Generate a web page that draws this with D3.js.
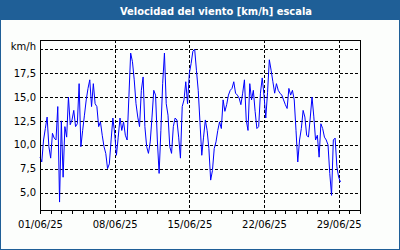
<!DOCTYPE html>
<html>
<head>
<meta charset="utf-8">
<script src="https://cdn.jsdelivr.net/npm/d3@7"></script>
<style>
  body { margin: 0; background: #fff; }
  svg { display: block; }
</style>
</head>
<body>
<svg id="chart" width="400" height="250"></svg>
<script>
// wind speed, one reading every 4 hours starting 01/06/25 00:00
const startDate = new Date(Date.UTC(2025, 5, 1))
const stepHours = 4
const speeds = [
  8.7, 8.2, 10.5, 11.7, 12.9, 9.8, 8.6, 11.2, 10.7, 10.5,
  14.0, 4.0, 12.5, 6.6, 11.9, 10.8, 15.0, 12.1, 12.6, 13.6,
  11.9, 12.2, 16.4, 9.8, 11.5, 13.1, 14.7, 15.9, 16.8, 14.0,
  16.4, 14.3, 14.0, 11.9, 12.4, 11.0, 9.8, 9.1, 7.5, 8.0,
  10.5, 12.8, 11.2, 8.9, 10.8, 12.8, 11.5, 12.4, 11.0, 10.5,
  15.0, 19.6, 18.7, 16.8, 14.3, 12.9, 11.9, 15.7, 17.1, 11.9,
  9.8, 9.1, 10.3, 12.9, 15.7, 15.2, 10.5, 7.0, 11.5, 16.4,
  19.6, 14.3, 13.1, 9.8, 9.1, 11.9, 12.8, 12.6, 10.8, 8.6,
  14.0, 14.7, 16.6, 14.3, 17.5, 18.5, 19.8, 20.0, 17.8, 15.7,
  12.3, 8.9, 10.8, 12.6, 11.5, 9.6, 6.3, 7.3, 9.6, 10.3,
  11.5, 12.4, 11.7, 14.7, 13.5, 14.2, 15.2, 15.7, 15.9, 16.6,
  15.4, 15.2, 14.9, 14.2, 15.4, 16.8, 12.6, 11.5, 16.4, 14.7,
  15.7, 13.5, 11.7, 11.9, 15.4, 17.0, 15.2, 12.8, 15.5, 18.9,
  17.8, 16.6, 15.4, 16.4, 15.7, 15.4, 15.2, 14.7, 14.2, 13.8,
  15.9, 15.2, 15.7, 14.7, 11.5, 8.2, 10.5, 11.7, 13.6, 12.9,
  11.0, 10.8, 12.8, 15.0, 13.0, 10.5, 11.0, 8.7, 12.2, 11.7,
  10.8, 10.5, 10.0, 7.0, 4.7, 10.5, 10.7, 7.7, 6.6, 6.1
]
const yTicks = [5, 7.5, 10, 12.5, 15, 17.5, 20]
const labelDates = ["2025-06-01", "2025-06-08", "2025-06-15", "2025-06-22", "2025-06-29"]
const titleText = "Velocidad del viento [km/h] escala"
const unitText = "km/h"

let width = 400, height = 250
let margin = { top: 40, right: 40, bottom: 40, left: 40 }

let data = speeds.map((v, i) => ({ t: d3.utcHour.offset(startDate, i * stepHours), v: v }))

let x = d3.scaleUtc()
  .domain([startDate, new Date(Date.UTC(2025, 6, 1))])
  .range([margin.left, width - margin.right])

let y = d3.scaleLinear()
  .domain([3.17, 20.97])
  .range([height - margin.bottom, margin.top])

let svg = d3.select("#chart")
  .style("font-family", "'DejaVu Sans', Verdana, sans-serif")

// background + outer border
svg.append("rect")
  .attr("x", 0.5).attr("y", 0.5)
  .attr("width", width - 1).attr("height", height - 1)
  .attr("fill", "#fcfefc")
  .attr("stroke", "#1f5f97")

// title bar
svg.append("rect")
  .attr("x", 0).attr("y", 0)
  .attr("width", width).attr("height", 20)
  .attr("fill", "#1f5f97")

svg.append("text")
  .attr("x", 216).attr("y", 14.5)
  .attr("text-anchor", "middle")
  .attr("fill", "#fff")
  .attr("font-weight", "bold")
  .attr("font-size", 11)
  .attr("font-family", "'DejaVu Sans Condensed', 'DejaVu Sans', sans-serif")
  .attr("font-stretch", "condensed")
  .text(titleText)

// horizontal grid + y labels
let fmt = d => d === 20 ? unitText : d3.format(".1f")(d).replace(".", ",")

let yAxis = svg.append("g")
  .attr("transform", `translate(${margin.left},0)`)
  .call(d3.axisLeft(y)
    .tickValues(yTicks)
    .tickSize(-(width - margin.left - margin.right))
    .tickPadding(4)
    .tickFormat(fmt))
yAxis.select(".domain").remove()
yAxis.selectAll("line")
  .attr("stroke", "#000")
  .attr("stroke-dasharray", "3,2")
  .attr("shape-rendering", "crispEdges")
yAxis.selectAll("text")
  .attr("fill", "#000")
  .attr("font-size", 10)
  .attr("font-family", "'DejaVu Sans', Verdana, sans-serif")
yAxis.selectAll(".tick")
  .filter(d => d === 20)
  .select("text").attr("dy", "0")

// vertical grid at the labelled dates
let gridDates = labelDates.slice(1).map(d => d3.utcParse("%Y-%m-%d")(d))
let xGrid = svg.append("g")
  .attr("transform", `translate(0,${margin.top})`)
  .call(d3.axisBottom(x)
    .tickValues(gridDates)
    .tickSize(height - margin.top - margin.bottom)
    .tickFormat(""))
xGrid.select(".domain").remove()
xGrid.selectAll("line")
  .attr("stroke", "#000")
  .attr("stroke-dasharray", "3,2")
  .attr("shape-rendering", "crispEdges")

// daily ticks
let xTicks = svg.append("g")
  .attr("transform", `translate(0,${height - margin.bottom})`)
  .call(d3.axisBottom(x)
    .ticks(d3.utcDay.every(1))
    .tickSizeInner(4)
    .tickSizeOuter(0)
    .tickFormat(""))
xTicks.select(".domain").remove()
xTicks.selectAll("line")
  .attr("stroke", "#000")
  .attr("shape-rendering", "crispEdges")

// date labels
let xLabels = svg.append("g")
  .attr("transform", `translate(0,${height - margin.bottom})`)
  .call(d3.axisBottom(x)
    .tickValues(labelDates.map(d => d3.utcParse("%Y-%m-%d")(d)))
    .tickSize(0)
    .tickPadding(11)
    .tickFormat(d3.utcFormat("%d/%m/%y")))
xLabels.select(".domain").remove()
xLabels.selectAll("text")
  .attr("fill", "#000")
  .attr("font-size", 10)
  .attr("font-family", "'DejaVu Sans', Verdana, sans-serif")

// the series
let line = d3.line()
  .x(d => x(d.t))
  .y(d => y(d.v))

svg.append("path")
  .datum(data)
  .attr("fill", "none")
  .attr("stroke", "#0000ff")
  .attr("stroke-width", 1)
  .attr("d", line)

// plot frame
svg.append("rect")
  .attr("x", margin.left + 0.5).attr("y", margin.top + 0.5)
  .attr("width", width - margin.left - margin.right)
  .attr("height", height - margin.top - margin.bottom)
  .attr("fill", "none")
  .attr("stroke", "#000")
  .attr("shape-rendering", "crispEdges")
</script>
</body>
</html>
